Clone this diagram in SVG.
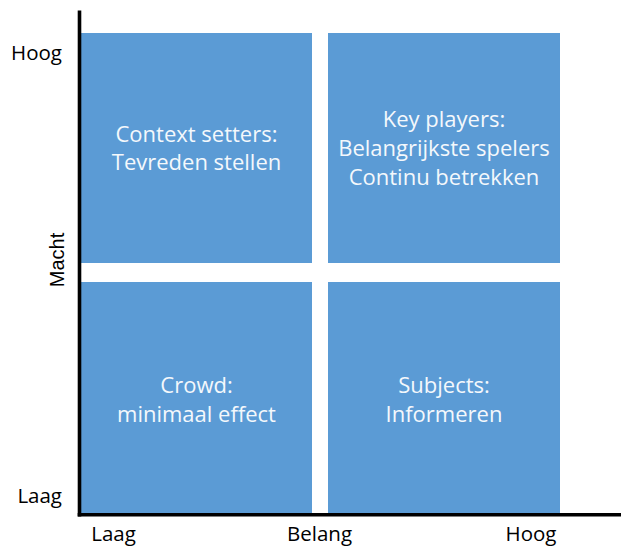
<svg xmlns="http://www.w3.org/2000/svg" width="622" height="547" viewBox="0 0 622 547">
  <style>
    .box { fill: #5B9BD5; }
    .bt { font-family: "Open Sans", "Liberation Sans", sans-serif; font-size: 22px; fill: #F4F8FC; text-anchor: middle; }
    .ax { font-family: "Open Sans", "Liberation Sans", sans-serif; font-size: 20.5px; fill: #000000; }
    .axis { stroke: #000000; stroke-width: 3.6; fill: none; }
  </style>
  <rect width="622" height="547" fill="#FFFFFF"/>

  <g id="context-setters">
    <rect class="box" x="81" y="33" width="231" height="230"/>
    <text class="bt" x="196.5" y="142">Context setters:</text>
    <text class="bt" x="196.5" y="170">Tevreden stellen</text>
  </g>
  <g id="key-players">
    <rect class="box" x="328" y="33" width="232" height="230"/>
    <text class="bt" x="444" y="127">Key players:</text>
    <text class="bt" x="444" y="156">Belangrijkste spelers</text>
    <text class="bt" x="444" y="185">Continu betrekken</text>
  </g>
  <g id="crowd">
    <rect class="box" x="81" y="282" width="231" height="231"/>
    <text class="bt" x="196.5" y="393">Crowd:</text>
    <text class="bt" x="196.5" y="421.5">minimaal effect</text>
  </g>
  <g id="subjects">
    <rect class="box" x="328" y="282" width="232" height="231"/>
    <text class="bt" x="444" y="392.5">Subjects:</text>
    <text class="bt" x="444" y="421.5">Informeren</text>
  </g>

  <g id="connectors">
    <line class="axis" x1="79.5" y1="10.5" x2="79.5" y2="516.5"/>
    <line class="axis" x1="77.7" y1="514.7" x2="621" y2="514.7"/>
  </g>

  <g id="labels">
    <text class="ax" x="62" y="60" text-anchor="end">Hoog</text>
    <text class="ax" x="62" y="503" text-anchor="end">Laag</text>
    <text class="ax" x="113.5" y="541" text-anchor="middle">Laag</text>
    <text class="ax" x="319.5" y="541" text-anchor="middle">Belang</text>
    <text class="ax" x="531" y="541" text-anchor="middle">Hoog</text>
    <text x="64" y="260" transform="rotate(-90 64 260)" text-anchor="middle" font-family="Liberation Sans, Arial, sans-serif" font-size="20" fill="#000000">Macht</text>
  </g>
</svg>
